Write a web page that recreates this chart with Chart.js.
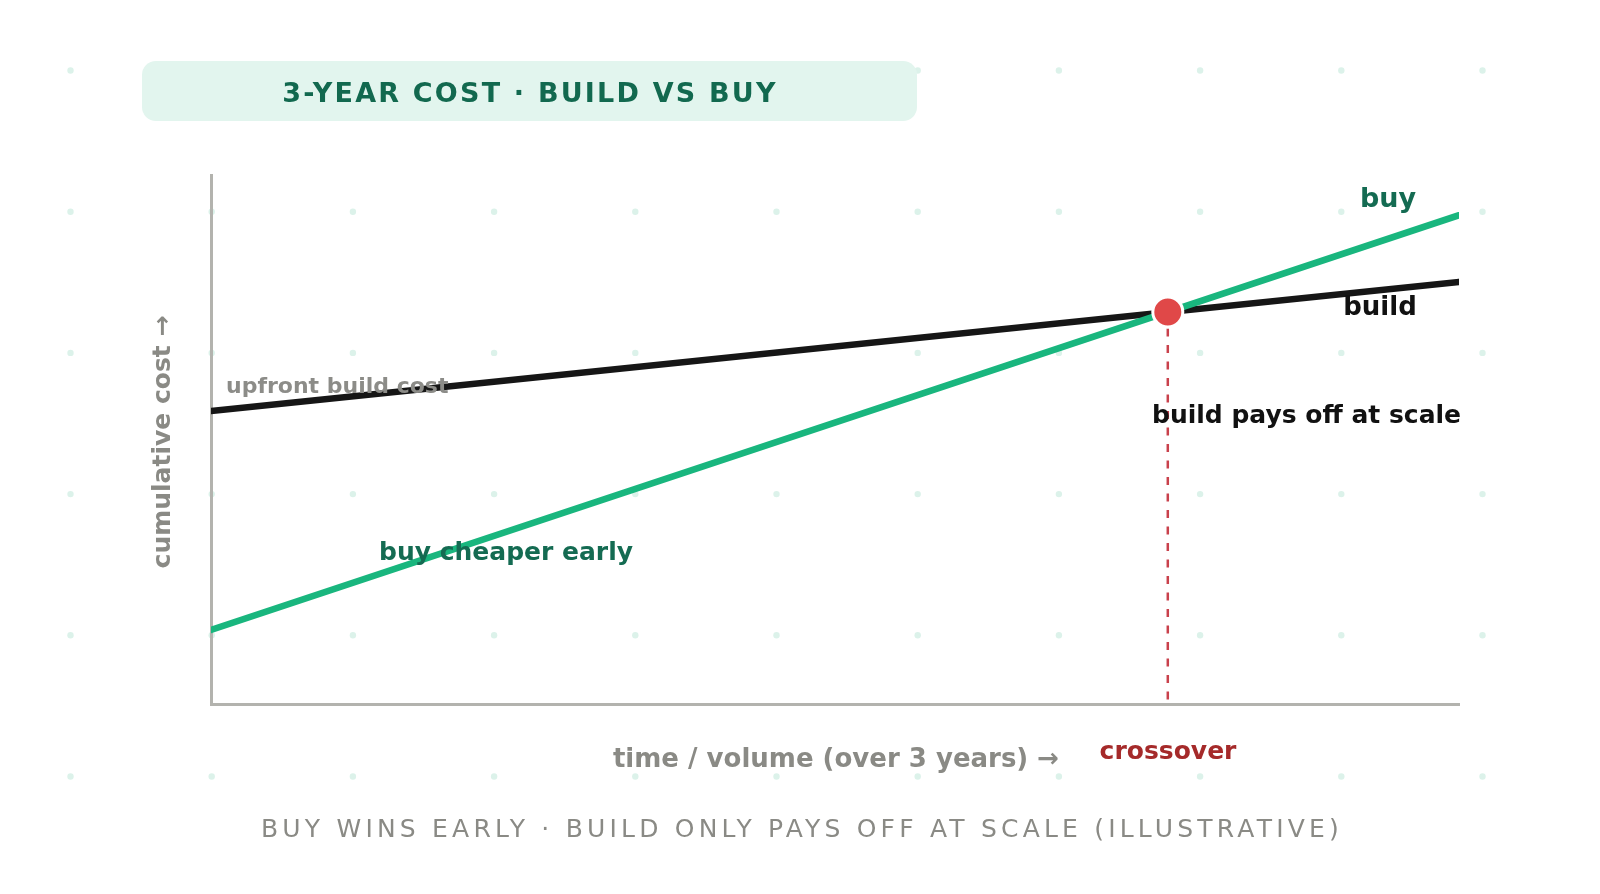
<!DOCTYPE html>
<html>
<head>
<meta charset="utf-8">
<script src="https://cdn.jsdelivr.net/npm/chart.js@4.4.1/dist/chart.umd.min.js"></script>
<style>
  html, body { margin: 0; padding: 0; background: #fff; }
  #wrap { width: 1600px; height: 894px; }
</style>
</head>
<body>
<div id="wrap"><canvas id="costChart" width="1600" height="894"></canvas></div>
<script>
// months over 3 years, cumulative cost (illustrative index 0-100)
const months = [0, 36];
const buildCost = [55.4, 79.8];
const buyCost = [14.0, 92.4];
const crossover = { x: 27.6, y: 74.1 };

const FONT = '"DejaVu Sans", sans-serif';

const dotGrid = {
  id: 'dotGrid',
  beforeDraw(chart) {
    const c = chart.ctx;
    c.save();
    c.fillStyle = '#ffffff';
    c.fillRect(0, 0, chart.width, chart.height);
    c.fillStyle = '#dcf2ea';
    for (let x = 70.5; x < chart.width; x += 141.2) {
      for (let y = 70.5; y < 790; y += 141.2) {
        c.beginPath();
        c.arc(x, y, 3.2, 0, Math.PI * 2);
        c.fill();
      }
    }
    // title pill
    c.fillStyle = '#e2f5ee';
    c.beginPath();
    c.roundRect(142, 61, 775, 60, 14);
    c.fill();
    c.restore();
  }
};

const labels = {
  id: 'labels',
  afterDraw(chart) {
    const c = chart.ctx;
    const put = (txt, x, y, size, color, align, weight, spacing) => {
      c.font = (weight || 'bold') + ' ' + size + 'px ' + FONT;
      c.fillStyle = color;
      c.textAlign = align || 'center';
      c.textBaseline = 'middle';
      c.letterSpacing = (spacing || 0) + 'px';
      c.fillText(txt, x, y);
    };
    c.save();
    put('3-YEAR COST · BUILD VS BUY', 530, 95, 27, '#12694f', 'center', 'bold', 2.2);
    put('buy', 1388, 200, 27, '#146b52');
    put('build', 1380, 308, 26, '#111111');
    put('upfront build cost', 226, 387, 22, '#8c8c88', 'left');
    put('buy cheaper early', 379, 553, 25, '#146b52', 'left');
    put('build pays off at scale', 1152, 416, 25, '#111111', 'left');
    put('crossover', 1168, 752, 25, '#a52a2a');
    put('time / volume (over 3 years) →', 836, 760, 26, '#8a8a85');
    put('BUY WINS EARLY · BUILD ONLY PAYS OFF AT SCALE (ILLUSTRATIVE)', 802, 830, 25, '#8a8a85', 'center', 'normal', 4.2);
    c.translate(163, 442);
    c.rotate(-Math.PI / 2);
    put('cumulative cost →', 0, 0, 25, '#8a8a85');
    c.restore();
  }
};

new Chart(document.getElementById('costChart'), {
  type: 'line',
  data: {
    datasets: [
      {
        label: 'crossover marker',
        data: [crossover],
        showLine: false,
        pointRadius: 15,
        pointBackgroundColor: '#e04848',
        pointBorderColor: '#ffffff',
        pointBorderWidth: 3,
        order: 0
      },
      {
        label: 'build',
        data: months.map((m, i) => ({ x: m, y: buildCost[i] })),
        borderColor: '#161616',
        borderWidth: 6.5,
        borderCapStyle: 'round',
        pointRadius: 0,
        order: 2
      },
      {
        label: 'buy',
        data: months.map((m, i) => ({ x: m, y: buyCost[i] })),
        borderColor: '#19b67e',
        borderWidth: 6.5,
        borderCapStyle: 'round',
        pointRadius: 0,
        order: 1
      },
      {
        label: 'crossover line',
        data: [crossover, { x: crossover.x, y: 0 }],
        borderColor: '#c9414c',
        borderWidth: 2.5,
        borderDash: [8, 8.5],
        pointRadius: 0,
        order: 3
      }
    ]
  },
  plugins: [dotGrid, labels],
  options: {
    responsive: false,
    animation: false,
    layout: { padding: { left: 211, right: 141, top: 175, bottom: 190 } },
    scales: {
      x: {
        type: 'linear',
        min: 0,
        max: 36,
        ticks: { display: false },
        grid: { display: false },
        border: { display: true, color: '#b3b3ae', width: 3 },
        afterFit(s) { s.height = 0; }
      },
      y: {
        min: 0,
        max: 100,
        ticks: { display: false },
        grid: { display: false },
        border: { display: true, color: '#b3b3ae', width: 3 },
        afterFit(s) { s.width = 0; }
      }
    },
    plugins: {
      legend: { display: false },
      tooltip: { enabled: false }
    }
  }
});
</script>
</body>
</html>
